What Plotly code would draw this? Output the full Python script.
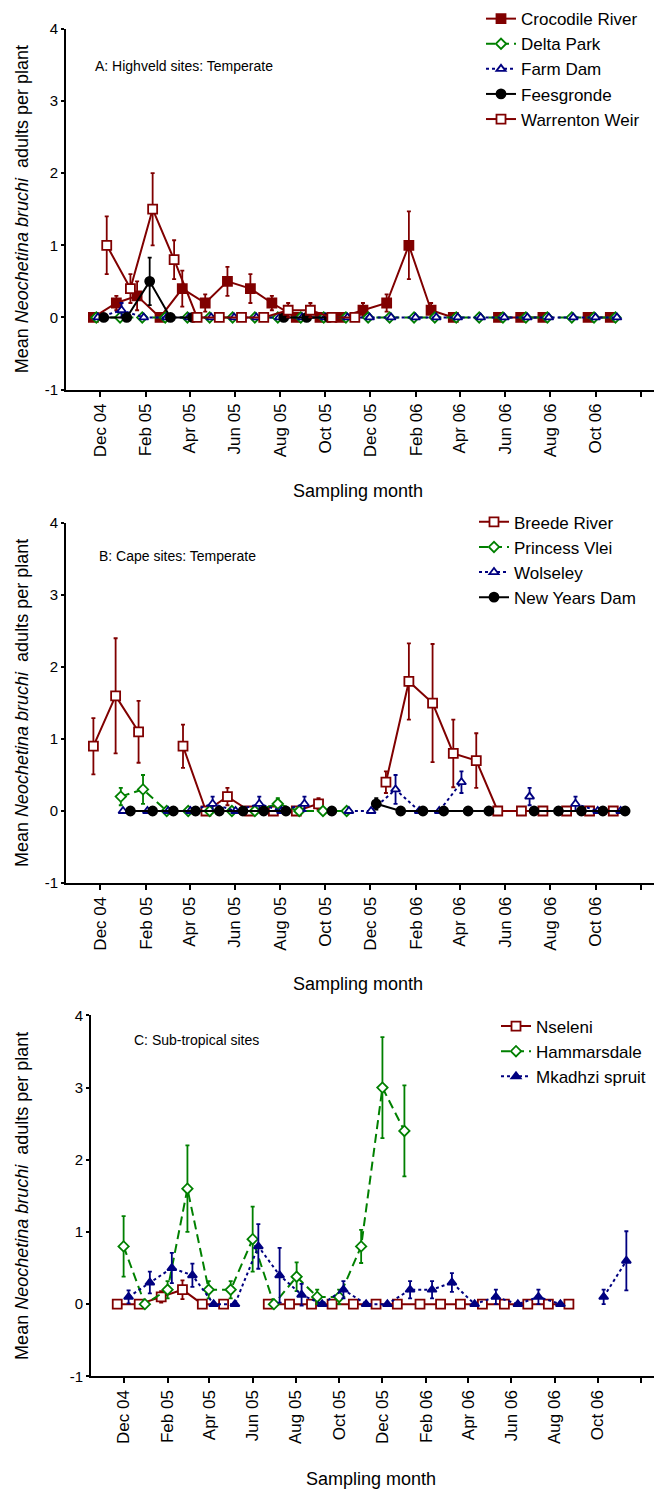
import plotly.graph_objects as go

FONT = "Liberation Sans, Arial, sans-serif"
RED = "#800000"
GREEN = "#008000"
NAVY = "#000080"
BLACK = "#000000"

# ---------------- shared x axis ticks ----------------
TICK_DATES = ["2004-12-01", "2005-02-01", "2005-04-01", "2005-06-01", "2005-08-01",
              "2005-10-01", "2005-12-01", "2006-02-01", "2006-04-01", "2006-06-01",
              "2006-08-01", "2006-10-01", "2006-12-01"]
TICK_LABELS = ["Dec 04", "Feb 05", "Apr 05", "Jun 05", "Aug 05", "Oct 05", "Dec 05",
               "Feb 06", "Apr 06", "Jun 06", "Aug 06", "Oct 06", ""]
X_RANGE = ["2004-10-16", "2006-12-19"]
Y_TICKS = [-1, 0, 1, 2, 3, 4]
Y_TICK_LABELS = ["-1", "0", "1", "2", "3", "4"]

# ---------------- A: Highveld sites ----------------
CROC_DATES = ["2004-11-22", "2004-12-23", "2005-01-20", "2005-02-20", "2005-03-22",
              "2005-04-22", "2005-05-22", "2005-06-22", "2005-07-21", "2005-08-23",
              "2005-09-24", "2005-10-21", "2005-11-21", "2005-12-23", "2006-01-22",
              "2006-02-21", "2006-03-23", "2006-04-22", "2006-05-23", "2006-06-22",
              "2006-07-22", "2006-08-22", "2006-09-21", "2006-10-21"]
CROC_MEAN = [0, 0.2, 0.3, 0, 0.4, 0.2, 0.5, 0.4, 0.2, 0, 0, 0, 0.1, 0.2, 1.0, 0.1, 0,
             None, 0, 0, 0, None, 0, 0]
CROC_ERR = [0, 0.1, 0.2, 0, 0.25, 0.12, 0.2, 0.2, 0.1, 0, 0, 0, 0.1, 0.12, 0.47, 0.1, 0,
            0, 0, 0, 0, 0, 0, 0]

DELTA_DATES = ["2004-11-26", "2004-12-28", "2005-01-27", "2005-02-27", "2005-03-29",
               "2005-04-28", "2005-05-29", "2005-06-28", "2005-07-29", "2005-08-29",
               "2005-09-29", "2005-10-29", "2005-11-28", "2005-12-27", "2006-01-29",
               "2006-02-26", "2006-03-27", "2006-04-27", "2006-05-29", "2006-06-29",
               "2006-07-28", "2006-08-30", "2006-09-29", "2006-10-28"]
DELTA_MEAN = [0] * 24
DELTA_ERR = [0] * 24

FARM_DATES = ["2004-11-28", "2004-12-30", "2005-01-29", "2005-03-01", "2005-03-31",
              "2005-04-30", "2005-05-31", "2005-06-30", "2005-07-31", "2005-08-31",
              "2005-10-01", "2005-10-31", "2005-11-30", "2005-12-29", "2006-01-31",
              "2006-02-28", "2006-03-29", "2006-04-29", "2006-05-31", "2006-07-01",
              "2006-07-30", "2006-09-01", "2006-10-01", "2006-10-30"]
FARM_MEAN = [0, 0.1, 0, 0, 0, 0, 0, 0, 0, 0, 0, 0, 0, 0, 0, 0, 0, 0, 0, 0, 0, 0, 0, 0]
FARM_ERR = [0, 0.1, 0, 0, 0, 0, 0, 0, 0, 0, 0, 0, 0, 0, 0, 0, 0, 0, 0, 0, 0, 0, 0, 0]

FEES_DATES = ["2004-12-06", "2005-01-06", "2005-02-06", "2005-03-06", "2005-04-05",
              "2005-05-06", "2005-06-06", "2005-07-06", "2005-08-06", "2005-09-06",
              "2005-10-06"]
FEES_MEAN = [0, 0, 0.5, 0, 0, None, None, None, 0, 0, 0]
FEES_ERR = [0, 0, 0.33, 0, 0, 0, 0, 0, 0, 0, 0]

WARR_DATES = ["2004-12-10", "2005-01-11", "2005-02-10", "2005-03-11", "2005-04-11",
              "2005-05-11", "2005-06-10", "2005-07-10", "2005-08-12", "2005-09-11",
              "2005-10-10", "2005-11-10"]
WARR_MEAN = [1.0, 0.4, 1.5, 0.8, 0, 0, 0, 0, 0.1, 0.1, 0, 0]
WARR_ERR = [0.4, 0.2, 0.5, 0.27, 0, 0, 0, 0, 0.1, 0.1, 0, 0]

# ---------------- B: Cape sites ----------------
BREEDE_DATES = ["2004-11-22", "2004-12-22", "2005-01-22", "2005-02-22", "2005-03-23",
                "2005-04-23", "2005-05-22", "2005-06-21", "2005-07-23", "2005-08-23",
                "2005-09-22", "2005-10-22", "2005-11-22", "2005-12-22", "2006-01-22",
                "2006-02-23", "2006-03-23", "2006-04-23", "2006-05-22", "2006-06-23",
                "2006-07-22", "2006-08-23", "2006-09-23", "2006-10-25"]
BREEDE_MEAN = [0.9, 1.6, 1.1, None, 0.9, 0, 0.2, 0, 0, 0, 0.1, None, None, 0.4, 1.8, 1.5,
               0.8, 0.7, 0, 0, 0, 0, 0, 0]
BREEDE_ERR = [0.39, 0.8, 0.43, 0, 0.3, 0, 0.12, 0, 0, 0, 0.08, 0, 0, 0.15, 0.53, 0.82,
              0.47, 0.38, 0, 0, 0, 0, 0, 0]

PRINCESS_DATES = ["2004-12-29", "2005-01-28", "2005-03-01", "2005-03-30", "2005-04-28",
                  "2005-05-28", "2005-06-28", "2005-07-29", "2005-08-27", "2005-09-28",
                  "2005-10-30"]
PRINCESS_MEAN = [0.2, 0.3, 0, 0, 0, 0, 0, 0.1, 0, 0, 0]
PRINCESS_ERR = [0.12, 0.2, 0, 0, 0, 0, 0, 0.08, 0, 0, 0]

WOLSELEY_DATES = ["2005-01-01", "2005-02-03", "2005-03-03", "2005-04-02", "2005-05-02",
                  "2005-06-02", "2005-07-04", "2005-08-03", "2005-09-03", "2005-10-03",
                  "2005-11-02", "2005-12-02", "2006-01-04", "2006-02-05", "2006-03-04",
                  "2006-04-03", "2006-05-03", "2006-06-03", "2006-07-04", "2006-08-04",
                  "2006-09-04", "2006-10-04", "2006-11-04"]
WOLSELEY_MEAN = [0, 0, 0, 0, 0.1, 0, 0.1, 0, 0.1, None, 0, 0, 0.3, 0, 0, 0.4, None, None,
                 0.2, None, 0.1, 0, 0]
WOLSELEY_ERR = [0, 0, 0, 0, 0.1, 0, 0.1, 0, 0.1, 0, 0, 0, 0.2, 0, 0, 0.15, 0, 0,
                0.12, 0, 0.1, 0, 0]

NYD_DATES = ["2005-01-11", "2005-02-10", "2005-03-10", "2005-04-09", "2005-05-11",
             "2005-06-12", "2005-07-10", "2005-08-09", "2005-09-09", "2005-10-10",
             "2005-11-10", "2005-12-09", "2006-01-11", "2006-02-10", "2006-03-10",
             "2006-04-12", "2006-05-10", "2006-06-10", "2006-07-10", "2006-08-12",
             "2006-09-12", "2006-10-11", "2006-11-10"]
NYD_MEAN = [0, 0, 0, 0, 0, 0, 0, 0, None, 0, None, 0.1, 0, 0, 0, 0, 0, None, 0, 0, 0, 0, 0]
NYD_ERR = [0, 0, 0, 0, 0, 0, 0, 0, 0, 0, 0, 0.08, 0, 0, 0, 0, 0, 0, 0, 0, 0, 0, 0]

# ---------------- C: Sub-tropical sites ----------------
NSELENI_DATES = ["2004-11-22", "2004-12-23", "2005-01-23", "2005-02-22", "2005-03-22",
                 "2005-04-21", "2005-05-22", "2005-06-23", "2005-07-23", "2005-08-23",
                 "2005-09-21", "2005-10-21", "2005-11-22", "2005-12-22", "2006-01-23",
                 "2006-02-21", "2006-03-21", "2006-04-21", "2006-05-22", "2006-06-24",
                 "2006-07-23", "2006-08-21"]
NSELENI_MEAN = [0, 0, 0.1, 0.2, 0, 0, None, 0, 0, 0, 0, 0, 0, 0, 0, 0, 0, 0, 0, 0, 0, 0]
NSELENI_ERR = [0, 0, 0.08, 0.13, 0, 0, 0, 0, 0, 0, 0, 0, 0, 0, 0, 0, 0, 0, 0, 0, 0, 0]

HAMMARS_DATES = ["2004-12-01", "2004-12-31", "2005-02-01", "2005-03-01", "2005-03-31",
                 "2005-05-01", "2005-06-01", "2005-07-01", "2005-08-02", "2005-08-31",
                 "2005-10-01", "2005-11-01", "2005-12-01", "2006-01-01"]
HAMMARS_MEAN = [0.8, 0, 0.2, 1.6, 0.2, 0.2, 0.9, 0, 0.38, 0.1, 0.1, 0.8, 3.0, 2.4]
HAMMARS_ERR = [0.42, 0, 0.12, 0.6, 0.12, 0.12, 0.45, 0, 0.2, 0.1, 0.1, 0.23, 0.7, 0.63]

MKADHZI_DATES = ["2004-12-08", "2005-01-07", "2005-02-07", "2005-03-08", "2005-04-07",
                 "2005-05-07", "2005-06-09", "2005-07-09", "2005-08-09", "2005-09-07",
                 "2005-10-07", "2005-11-08", "2005-12-08", "2006-01-09", "2006-02-09",
                 "2006-03-09", "2006-04-10", "2006-05-10", "2006-06-10", "2006-07-09",
                 "2006-08-09", "2006-09-09", "2006-10-09", "2006-11-10"]
MKADHZI_MEAN = [0.1, 0.3, 0.5, 0.4, 0, 0, 0.8, 0.4, 0.13, 0, 0.2, 0, 0, 0.2, 0.2, 0.3, 0,
                0.1, 0, 0.1, 0, None, 0.1, 0.6]
MKADHZI_ERR = [0.09, 0.15, 0.21, 0.16, 0, 0, 0.31, 0.38, 0.15, 0, 0.12, 0, 0, 0.12, 0.12,
               0.13, 0, 0.1, 0, 0.1, 0, 0, 0.1, 0.41]

W, H = 654, 1498

fig = go.Figure()


def add_series(name, dates, means, errs, panel, color, symbol, fill, dash, size):
    suffix = "" if panel == 1 else str(panel)
    fig.add_trace(go.Scatter(
        x=dates, y=means, name=name, mode="lines+markers",
        xaxis="x" + suffix, yaxis="y" + suffix, legend="legend" + suffix,
        connectgaps=False,
        line=dict(color=color, width=2, dash=dash),
        marker=dict(symbol=symbol, size=size, color=fill,
                    line=dict(color=color, width=1.8)),
        error_y=dict(type="data", array=errs, visible=True, color=color,
                     thickness=1.8, width=2),
    ))


SHORT_DOT = "3px,3px"
LONG_DASH = "9px,5px"

add_series("Crocodile River", CROC_DATES, CROC_MEAN, CROC_ERR, 1, RED, "square", RED, "solid", 9)
add_series("Delta Park", DELTA_DATES, DELTA_MEAN, DELTA_ERR, 1, GREEN, "diamond", "white", LONG_DASH, 8)
add_series("Farm Dam", FARM_DATES, FARM_MEAN, FARM_ERR, 1, NAVY, "triangle-up", "white", SHORT_DOT, 8)
add_series("Feesgronde", FEES_DATES, FEES_MEAN, FEES_ERR, 1, BLACK, "circle", BLACK, "solid", 9)
add_series("Warrenton Weir", WARR_DATES, WARR_MEAN, WARR_ERR, 1, RED, "square", "white", "solid", 9)

add_series("Breede River", BREEDE_DATES, BREEDE_MEAN, BREEDE_ERR, 2, RED, "square", "white", "solid", 9)
add_series("Princess Vlei", PRINCESS_DATES, PRINCESS_MEAN, PRINCESS_ERR, 2, GREEN, "diamond", "white", LONG_DASH, 8)
add_series("Wolseley", WOLSELEY_DATES, WOLSELEY_MEAN, WOLSELEY_ERR, 2, NAVY, "triangle-up", "white", SHORT_DOT, 8)
add_series("New Years Dam", NYD_DATES, NYD_MEAN, NYD_ERR, 2, BLACK, "circle", BLACK, "solid", 9)

add_series("Nseleni", NSELENI_DATES, NSELENI_MEAN, NSELENI_ERR, 3, RED, "square", "white", "solid", 9)
add_series("Hammarsdale", HAMMARS_DATES, HAMMARS_MEAN, HAMMARS_ERR, 3, GREEN, "diamond", "white", LONG_DASH, 8)
add_series("Mkadhzi spruit", MKADHZI_DATES, MKADHZI_MEAN, MKADHZI_ERR, 3, NAVY, "triangle-up", NAVY, SHORT_DOT, 8)

# panel geometry in pixels: (plot left, plot top, plot bottom)
PANELS = [(66, 20, 385), (66, 520, 884), (91, 1018, 1383)]
PANEL_TITLES = ["A: Highveld sites: Temperate", "B: Cape sites: Temperate", "C: Sub-tropical sites"]
PANEL_TITLE_POS = [(93, 58), (97, 553), (132, 1043)]
XTITLE_Y = [488, 986, 1487]
LEGEND_POS = [(481, -8), (474, 501), (496, 1011)]

layout = dict(
    width=W, height=H, margin=dict(l=0, r=0, t=0, b=0),
    paper_bgcolor="white", plot_bgcolor="white",
    font=dict(family=FONT, color="black", size=15),
    annotations=[],
)

for i, (left, top, bottom) in enumerate(PANELS):
    suffix = "" if i == 0 else str(i + 1)
    layout["xaxis" + suffix] = dict(
        type="date", range=X_RANGE, domain=[left / W, 1],
        anchor="y" + suffix,
        tickmode="array", tickvals=TICK_DATES, ticktext=TICK_LABELS,
        tickangle=-90, tickfont=dict(size=17),
        ticks="outside", ticklen=5, tickwidth=1.5, tickcolor="black",
        showline=True, linecolor="black", linewidth=2,
        showgrid=False, zeroline=False,
    )
    layout["yaxis" + suffix] = dict(
        range=[-1, 4], domain=[1 - bottom / H, 1 - top / H],
        anchor="x" + suffix,
        tickmode="array", tickvals=Y_TICKS, ticktext=Y_TICK_LABELS,
        tickfont=dict(size=15),
        ticks="outside", ticklen=3, tickwidth=1.5, tickcolor="black",
        showline=True, linecolor="black", linewidth=2,
        showgrid=False, zeroline=False,
    )
    lx, ly = LEGEND_POS[i]
    layout["legend" + suffix] = dict(
        x=lx / W, y=1 - ly / H, xanchor="left", yanchor="top",
        bgcolor="rgba(0,0,0,0)", font=dict(size=17, family=FONT),
        itemwidth=30, tracegroupgap=0,
    )
    tx, ty = PANEL_TITLE_POS[i]
    layout["annotations"].append(dict(
        text=PANEL_TITLES[i], x=tx / W, y=1 - ty / H, xref="paper", yref="paper",
        xanchor="left", yanchor="middle", showarrow=False, font=dict(size=14)))
    layout["annotations"].append(dict(
        text="Mean <i>Neochetina bruchi</i>&nbsp; adults per plant",
        x=22 / W, y=1 - (top + bottom) / 2 / H, xref="paper", yref="paper",
        xanchor="center", yanchor="middle", textangle=-90, showarrow=False,
        font=dict(size=18)))
    layout["annotations"].append(dict(
        text="Sampling month", x=(left + W) / 2 / W - 0.003, y=1 - XTITLE_Y[i] / H,
        xref="paper", yref="paper", xanchor="center", yanchor="middle",
        showarrow=False, font=dict(size=18)))

fig.update_layout(**layout)
fig.write_html("out.html")
